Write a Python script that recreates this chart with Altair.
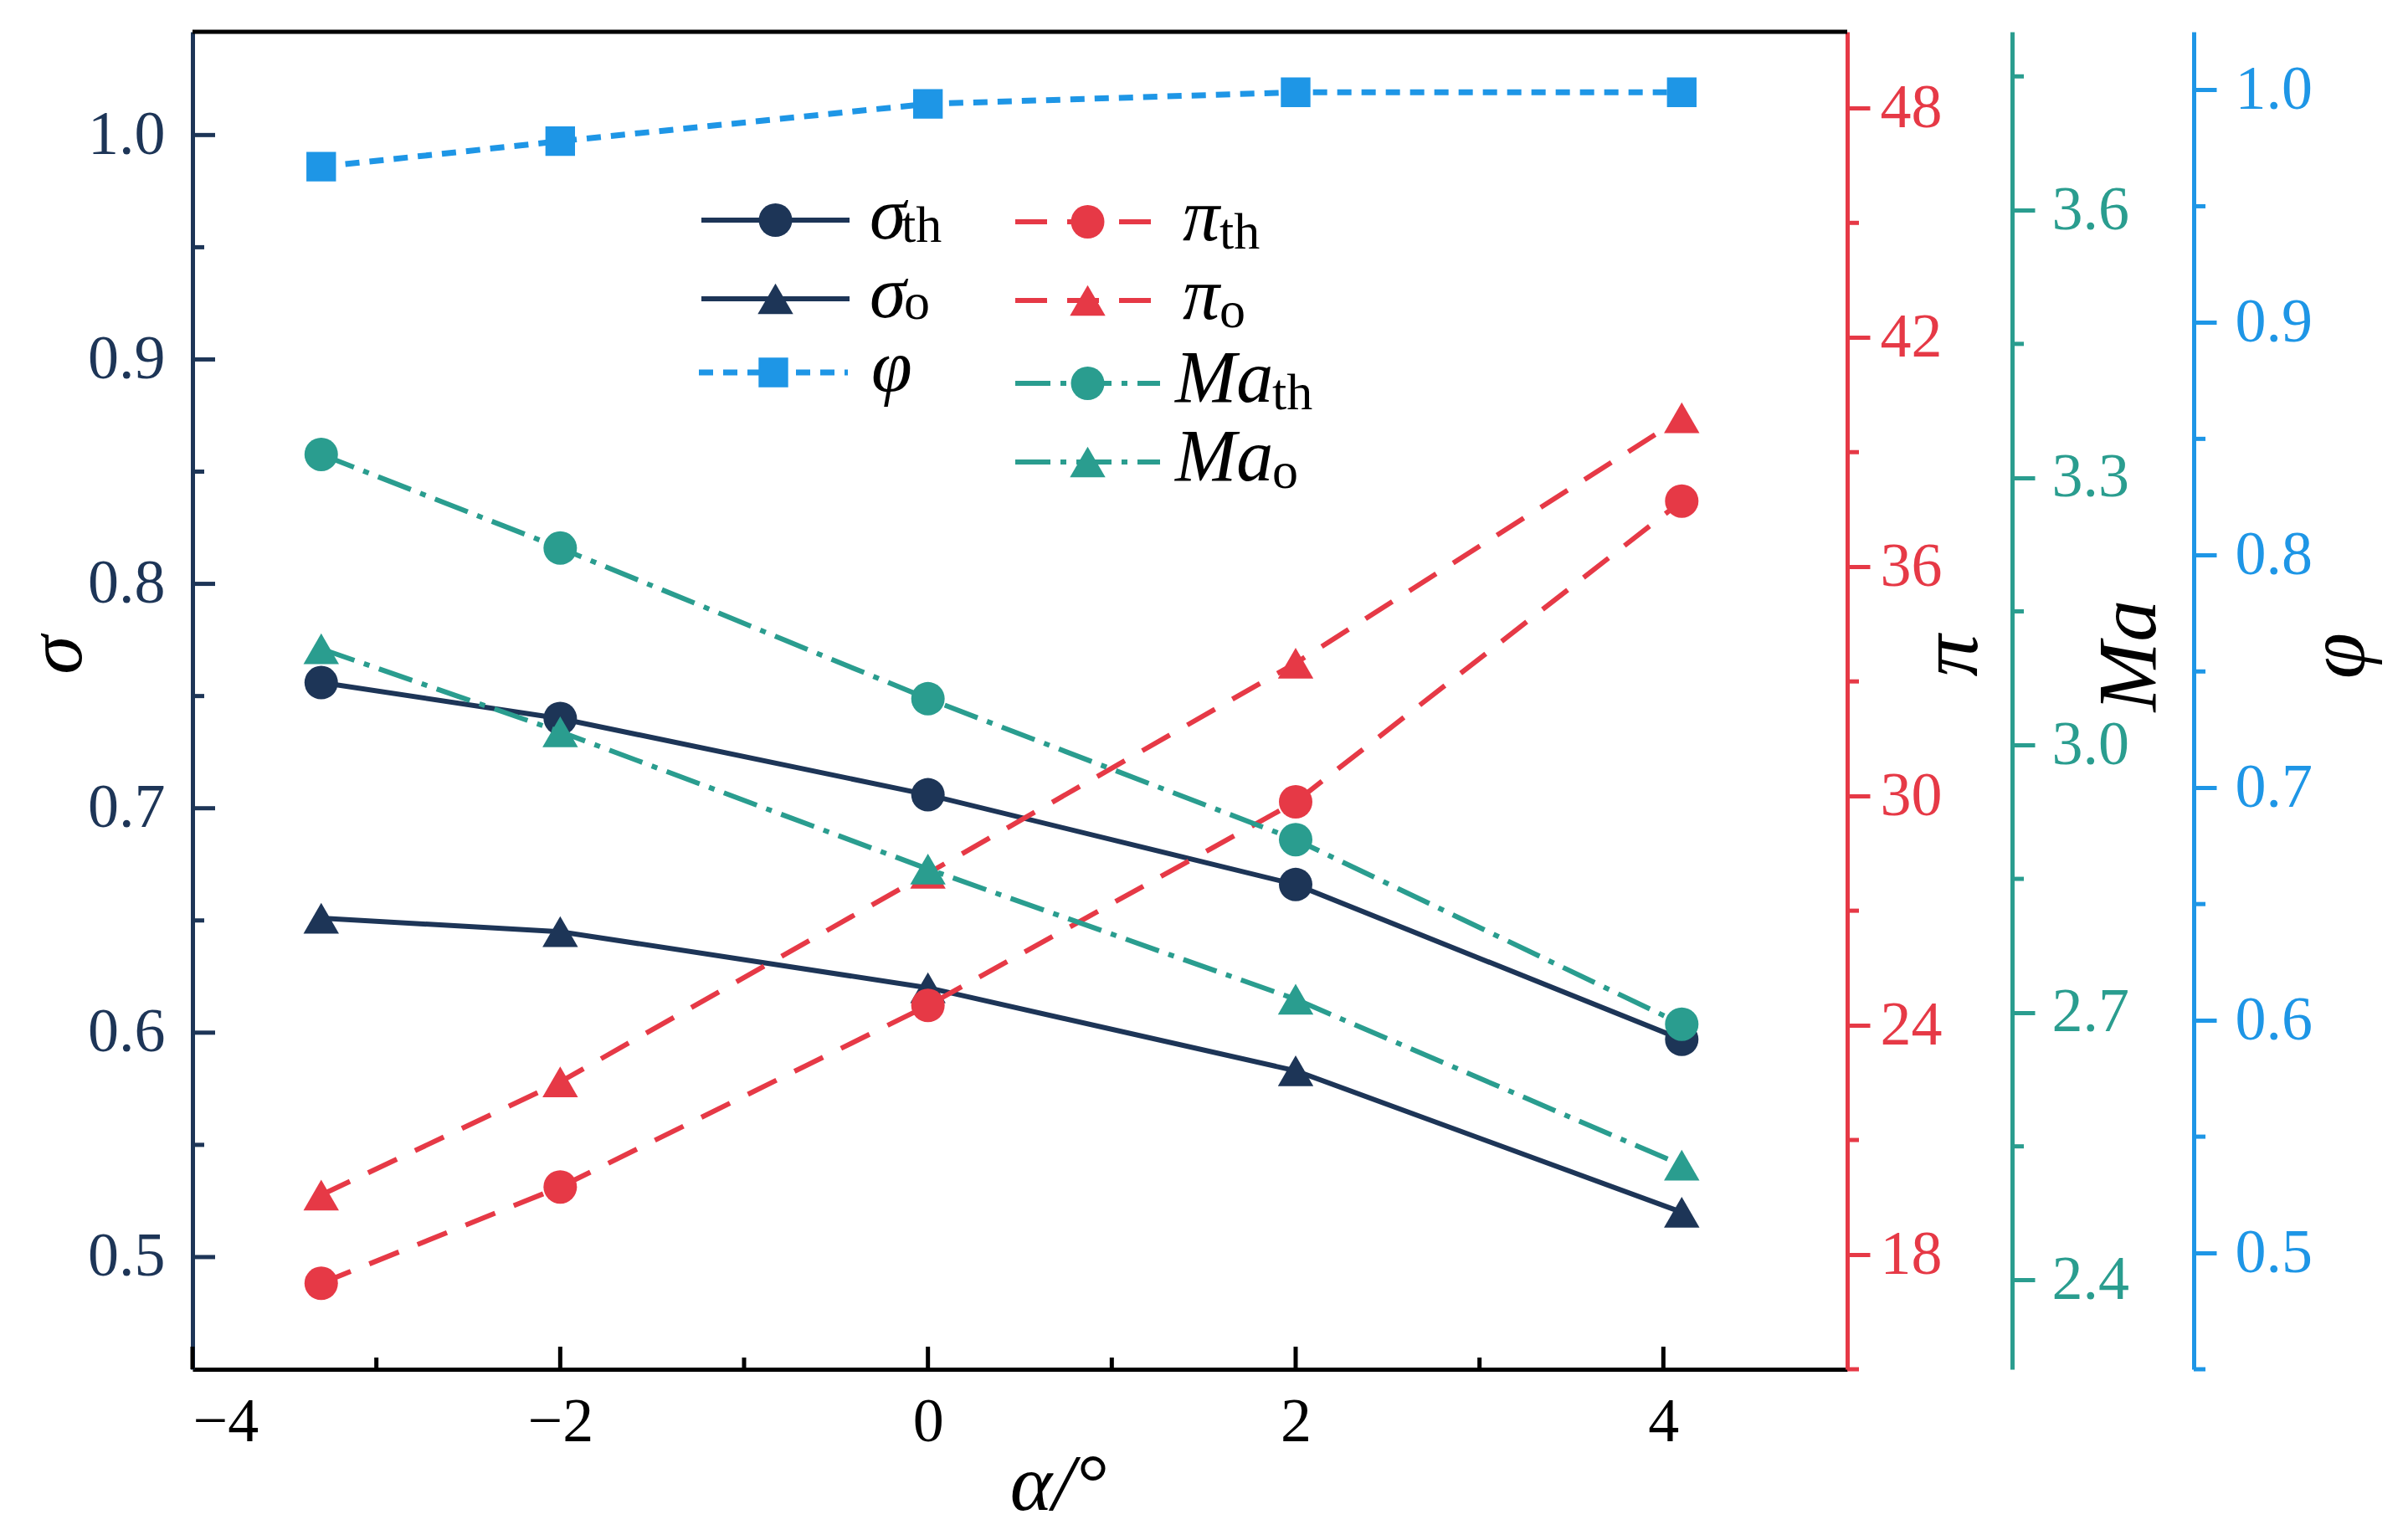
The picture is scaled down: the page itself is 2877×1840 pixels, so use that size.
import altair as alt
import pandas as pd

# ---------------- data ----------------
alpha = [-3.3, -2, 0, 2, 4.1]
sigma_th = [0.756, 0.740, 0.706, 0.666, 0.597]
sigma_o = [0.651, 0.645, 0.620, 0.583, 0.520]
pi_th = [17.25, 19.77, 24.52, 29.85, 37.72]
pi_o = [19.56, 22.52, 27.98, 33.48, 39.90]
ma_th = [3.326, 3.221, 3.052, 2.894, 2.687]
ma_o = [3.108, 3.015, 2.861, 2.715, 2.529]
phi = [0.967, 0.978, 0.994, 0.999, 0.999]

# tick values
x_major = [-4, -2, 0, 2, 4]
x_minor = [-3, -1, 1, 3]
sig_major = [0.5, 0.6, 0.7, 0.8, 0.9, 1.0]
sig_minor = [0.55, 0.65, 0.75, 0.85, 0.95]
pi_major = [18, 24, 30, 36, 42, 48]
pi_minor = [15, 21, 27, 33, 39, 45]
ma_major = [2.4, 2.7, 3.0, 3.3, 3.6]
ma_minor = [2.55, 2.85, 3.15, 3.45, 3.75]
phi_major = [0.5, 0.6, 0.7, 0.8, 0.9, 1.0]
phi_minor = [0.45, 0.55, 0.65, 0.75, 0.85, 0.95]

# ---------------- style ----------------
W, H = 1977, 1598
FONT = "'Liberation Serif', 'Times New Roman', Times, serif"
NAVY = "#1d3557"
RED = "#e63946"
TEAL = "#2a9d8f"
BLUE = "#1e96e6"
LW = 5
SW = 6
MAJ, MIN = 27, 14
OFF_MA, OFF_PHI = 197, 414

DASH_PI = [38, 24]
DASH_MA = [42, 12, 7, 12]
DASH_PHI = [17, 12]

xscale = alt.Scale(domain=[-4, 5], nice=False, zero=False)
x_axis = alt.Axis(values=x_major, format="d", orient="bottom", grid=False,
                  ticks=False, tickSize=0, domainColor="black", domainWidth=LW,
                  labelFont=FONT, labelFontSize=74, labelColor="black", labelPadding=27,
                  title="α/°", titleFont=FONT, titleFontStyle="italic", titleFontWeight="normal",
                  titleFontSize=96, titleColor="black", titleX=1034, titleY=167,
                  titleAlign="center", titleBaseline="alphabetic")


def X():
    return alt.X("alpha:Q", scale=xscale, axis=x_axis)


def right_axis(title, color, offset, values, fmt, pad, tx):
    return alt.Axis(values=values, format=fmt, orient="right", offset=offset, grid=False,
                    tickSize=MAJ, tickWidth=LW, tickColor=color, domainColor=color,
                    domainWidth=LW, labelFont=FONT, labelFontSize=74, labelColor=color,
                    labelPadding=pad, title=title, titleFont=FONT, titleFontStyle="italic",
                    titleFontWeight="normal", titleFontSize=100, titleColor="black",
                    titleAngle=270, titleX=tx, titleY=745, titleAlign="center",
                    titleBaseline="middle")


sig_scale = alt.Scale(domain=[0.45, 1.046], nice=False, zero=False)
pi_scale = alt.Scale(domain=[15, 50], nice=False, zero=False)
ma_scale = alt.Scale(domain=[2.3, 3.8], nice=False, zero=False)
phi_scale = alt.Scale(domain=[0.45, 1.025], nice=False, zero=False)

sig_axis = alt.Axis(values=sig_major, format=".1f", orient="left", grid=False,
                    ticks=False, tickSize=0, domainColor=NAVY, domainWidth=LW,
                    labelFont=FONT, labelFontSize=74, labelColor=NAVY, labelPadding=33,
                    title="σ", titleFont=FONT, titleFontStyle="italic", titleFontWeight="normal",
                    titleFontSize=94, titleColor="black", titleAngle=270, titleX=-162,
                    titleY=744, titleAlign="center", titleBaseline="middle")
pi_axis = right_axis("π", RED, 0, pi_major, "d", 12, 124)
ma_axis = right_axis("Ma", TEAL, OFF_MA, ma_major, ".1f", 20, 140)
phi_axis = right_axis("φ", BLUE, OFF_PHI, phi_major, ".1f", 22, 173)


def series(vals, color, dash, shape, size, yscale, yaxis, width=SW):
    df = pd.DataFrame({"alpha": alpha, "v": vals})
    base = alt.Chart(df).encode(x=X(), y=alt.Y("v:Q", scale=yscale, axis=yaxis))
    kw = dict(color=color, strokeWidth=width, strokeCap="butt")
    if dash:
        kw["strokeDash"] = dash
    line = base.mark_line(**kw)
    pts = base.mark_point(shape=shape, size=size, filled=True, color=color,
                          opacity=1, strokeWidth=0)
    return [line, pts]


def y_ticks(vals, yscale, yaxis, color, x0, length):
    df = pd.DataFrame({"v": vals})
    return alt.Chart(df).mark_rule(color=color, strokeWidth=LW).encode(
        y=alt.Y("v:Q", scale=yscale, axis=yaxis),
        x=alt.value(x0), x2=alt.value(x0 + length))


def x_ticks(vals, length):
    df = pd.DataFrame({"alpha": vals})
    return alt.Chart(df).mark_rule(color="black", strokeWidth=LW).encode(
        x=X(), y=alt.value(H), y2=alt.value(H - length))


CIRC, TRI, SQ = 1600, 1800, 1250

g_sigma = alt.layer(
    y_ticks(sig_major, sig_scale, sig_axis, NAVY, 0, MAJ),
    y_ticks(sig_minor, sig_scale, sig_axis, NAVY, 0, MIN),
    *series(sigma_th, NAVY, None, "circle", CIRC, sig_scale, sig_axis),
    *series(sigma_o, NAVY, None, "triangle-up", TRI, sig_scale, sig_axis),
    x_ticks(x_major, MAJ),
    x_ticks(x_minor, MIN),
)
g_pi = alt.layer(
    y_ticks(pi_minor, pi_scale, pi_axis, RED, W, MIN),
    *series(pi_th, RED, DASH_PI, "circle", CIRC, pi_scale, pi_axis),
    *series(pi_o, RED, DASH_PI, "triangle-up", TRI, pi_scale, pi_axis),
)
g_ma = alt.layer(
    y_ticks(ma_minor, ma_scale, ma_axis, TEAL, W + OFF_MA, MIN),
    *series(ma_th, TEAL, DASH_MA, "circle", CIRC, ma_scale, ma_axis),
    *series(ma_o, TEAL, DASH_MA, "triangle-up", TRI, ma_scale, ma_axis),
)
g_phi = alt.layer(
    y_ticks(phi_minor, phi_scale, phi_axis, BLUE, W + OFF_PHI, MIN),
    *series(phi, BLUE, DASH_PHI, "square", SQ, phi_scale, phi_axis, width=7),
)

# ---------------- legend (manual, to allow subscripts) ----------------
one = pd.DataFrame({"k": [0]})


def leg_entry(x0, x1, y, color, dash, shape, size, main, sub, tx, sx, sub_dy, width=SW):
    kw = dict(color=color, strokeWidth=width, strokeCap="butt")
    if dash:
        kw["strokeDash"] = dash
    layers = [
        alt.Chart(one).mark_rule(**kw).encode(x=alt.value(x0), x2=alt.value(x1), y=alt.value(y)),
        alt.Chart(one).mark_point(shape=shape, size=size, filled=True, color=color,
                                  opacity=1, strokeWidth=0).encode(
            x=alt.value((x0 + x1) / 2), y=alt.value(y)),
        alt.Chart(one).mark_text(text=main, font=FONT, fontStyle="italic", fontSize=88,
                                 color="black", align="left", baseline="alphabetic").encode(
            x=alt.value(tx), y=alt.value(y + 22)),
    ]
    if sub:
        layers.append(
            alt.Chart(one).mark_text(text=sub, font=FONT, fontSize=62, color="black",
                                     align="left", baseline="alphabetic").encode(
                x=alt.value(sx), y=alt.value(y + 22 + sub_dy)))
    return layers


legend = []
legend += leg_entry(608, 785, 225, NAVY, None, "circle", CIRC, "σ", "th", 809, 847, 4)
legend += leg_entry(608, 785, 319, NAVY, None, "triangle-up", TRI, "σ", "o", 809, 850, 2)
legend += leg_entry(605, 783, 407, BLUE, DASH_PHI, "square", SQ, "φ", None, 811, 0, 0, width=7)
legend += leg_entry(983, 1156, 227, RED, DASH_PI, "circle", CIRC, "π", "th", 1183, 1227, 10)
legend += leg_entry(983, 1156, 321, RED, DASH_PI, "triangle-up", TRI, "π", "o", 1183, 1227, 10)
legend += leg_entry(983, 1156, 420, TEAL, DASH_MA, "circle", CIRC, "Ma", "th", 1174, 1290, 9)
legend += leg_entry(983, 1156, 514, TEAL, DASH_MA, "triangle-up", TRI, "Ma", "o", 1174, 1290, 9)

top_border = alt.Chart(one).mark_rule(color="black", strokeWidth=LW).encode(
    x=alt.value(0), x2=alt.value(W), y=alt.value(0))

chart = alt.layer(g_sigma, g_pi, g_ma, g_phi, top_border, *legend).resolve_scale(
    y="independent"
).properties(
    width=W, height=H,
    autosize=alt.AutoSizeParams(type="none"),
    padding={"left": 222, "top": 30, "right": 662, "bottom": 196},
    background="white",
).configure_view(stroke=None)

chart.save("out.html", embed_options={"renderer": "svg", "actions": False})
